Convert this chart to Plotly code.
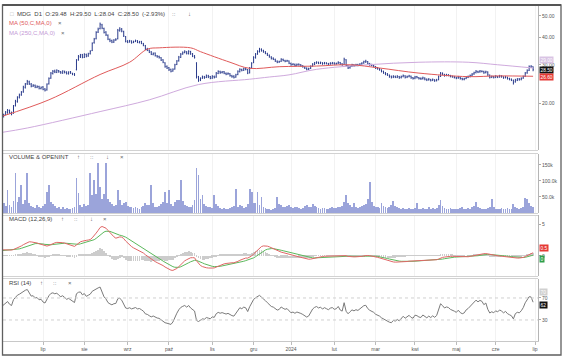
import math
import numpy as np
import plotly.graph_objects as go

# ---------------- data ----------------
month_ticks = [0, 21, 42, 64, 85, 107, 128, 147, 169, 190, 210, 231, 251, 271]
month_labels = ["", "lip", "sie", "wrz", "paź", "lis", "gru", "2024", "lut", "mar", "kwi", "maj", "cze", "lip"]

open_ = [17.3, 17.5, 17.9, 18.2, 18.6, 18.2, 18.1, 19.6, 20.4, 21.4,
         21.9, 22.6, 23.7, 24.6, 25.1, 24.5, 24.0, 24.2, 23.7, 23.9,
         23.4, 23.8, 23.3, 23.1, 24.6, 26.1, 27.4, 28.1, 27.7, 28.2,
         27.9, 27.5, 28.0, 27.8, 27.3, 27.9, 27.4, 27.3, 28.5, 31.6,
         32.6, 33.3, 32.4, 33.4, 32.9, 33.7, 34.8, 37.8, 39.4, 42.2,
         43.8, 45.5, 43.8, 42.2, 40.8, 39.0, 38.6, 38.0, 38.9, 39.4,
         42.8, 43.6, 42.4, 40.2, 38.4, 38.1, 38.4, 37.9, 38.3, 38.5,
         37.8, 38.2, 37.4, 36.6, 35.4, 34.9, 34.3, 33.4, 33.9, 32.9,
         32.7, 32.3, 31.6, 30.6, 29.5, 29.1, 28.6, 28.1, 28.7, 30.1,
         31.3, 32.4, 33.6, 34.1, 34.3, 33.7, 34.4, 33.7, 32.9, 30.5,
         26.4, 25.6, 26.1, 26.4, 26.3, 26.7, 26.5, 26.1, 26.5, 26.4,
         27.4, 27.9, 27.7, 27.9, 27.4, 27.3, 27.3, 26.7, 26.6, 26.4,
         27.1, 27.9, 28.5, 28.4, 28.7, 28.5, 27.6, 29.1, 30.7, 32.3,
         33.6, 34.4, 35.2, 34.7, 34.3, 33.7, 33.1, 32.5, 32.1, 31.7,
         31.1, 30.9, 31.1, 31.7, 31.3, 31.2, 31.2, 30.4, 30.1, 30.1,
         29.9, 30.2, 30.0, 29.6, 29.3, 28.9, 28.7, 28.9, 29.6, 30.1,
         30.5, 30.7, 30.4, 30.6, 30.4, 30.5, 30.3, 30.3, 30.4, 30.5,
         30.3, 30.5, 30.7, 30.3, 30.1, 31.6, 29.7, 29.1, 29.6, 29.9,
         29.8, 30.0, 29.9, 30.3, 30.6, 30.9, 31.0, 30.3, 30.1, 29.7,
         29.4, 29.1, 28.7, 28.4, 28.0, 27.5, 27.3, 26.9, 26.6, 26.4,
         26.5, 26.3, 26.5, 26.3, 26.6, 26.7, 26.4, 26.6, 26.6, 26.2,
         26.1, 26.5, 26.2, 26.0, 26.0, 26.1, 25.8, 25.7, 25.7, 25.6,
         25.6, 25.5, 25.7, 26.6, 27.4, 27.1, 26.9, 26.9, 26.8, 26.5,
         26.4, 26.2, 26.2, 26.3, 26.0, 25.8, 26.0, 26.3, 26.6, 26.9,
         27.3, 27.7, 27.9, 27.9, 28.0, 27.9, 27.7, 27.8, 26.9, 26.4,
         26.5, 26.4, 26.5, 26.5, 26.6, 26.4, 26.3, 26.3, 26.0, 25.8,
         25.5, 25.1, 25.5, 25.9, 25.8, 26.1, 26.6, 27.6, 28.3, 29.3,
         29.48]

high = [17.7, 18.0, 18.5, 18.9, 18.8, 18.4, 19.7, 20.8, 21.6, 22.2,
        22.8, 24.1, 24.8, 25.6, 25.4, 24.8, 24.5, 24.4, 24.2, 24.1,
        23.9, 24.0, 23.5, 24.7, 26.3, 27.8, 28.4, 28.5, 28.6, 28.4,
        28.1, 28.3, 28.2, 28.0, 28.0, 28.1, 27.6, 27.5, 31.8, 33.2,
        33.6, 33.6, 33.8, 33.7, 34.0, 34.9, 37.9, 39.7, 42.6, 44.2,
        46.6, 46.0, 44.2, 42.6, 41.2, 39.5, 39.0, 39.2, 39.6, 43.6,
        44.4, 44.0, 42.8, 40.5, 38.8, 38.9, 38.7, 38.6, 39.0, 38.8,
        38.5, 38.5, 37.7, 36.9, 35.8, 35.2, 34.6, 34.1, 34.1, 33.2,
        33.0, 32.5, 31.8, 30.8, 29.8, 29.3, 28.8, 28.9, 30.3, 31.5,
        32.9, 33.9, 34.5, 34.9, 34.6, 34.9, 34.7, 33.9, 33.2, 30.8,
        26.7, 26.3, 26.8, 26.7, 27.1, 27.0, 26.7, 26.9, 26.8, 27.8,
        28.3, 28.2, 28.1, 28.1, 27.7, 27.7, 27.5, 27.0, 26.9, 27.3,
        28.3, 28.9, 28.8, 29.1, 29.0, 28.7, 29.3, 30.8, 32.8, 33.9,
        34.9, 35.8, 35.6, 35.1, 34.6, 34.0, 33.4, 32.8, 32.4, 32.0,
        31.4, 31.3, 32.1, 32.0, 31.6, 31.6, 31.4, 30.7, 30.5, 30.4,
        30.4, 30.4, 30.2, 29.9, 29.5, 29.2, 29.1, 29.8, 30.5, 30.9,
        31.1, 31.0, 31.0, 30.8, 30.9, 30.8, 30.6, 30.8, 30.9, 30.8,
        30.7, 31.1, 30.9, 30.5, 32.3, 31.8, 29.9, 29.8, 30.3, 30.2,
        30.3, 30.3, 30.5, 30.8, 31.3, 31.6, 31.2, 30.6, 30.3, 30.0,
        29.6, 29.3, 29.0, 28.6, 28.2, 27.8, 27.5, 27.1, 26.8, 26.9,
        26.8, 26.9, 26.7, 26.8, 27.1, 26.9, 26.8, 27.0, 26.8, 26.4,
        26.7, 26.7, 26.4, 26.3, 26.5, 26.3, 26.0, 26.1, 25.9, 26.0,
        25.8, 25.9, 26.8, 27.8, 27.7, 27.3, 27.3, 27.2, 27.0, 26.8,
        26.7, 26.5, 26.7, 26.5, 26.2, 26.2, 26.6, 26.8, 27.1, 27.5,
        27.9, 28.4, 28.2, 28.4, 28.3, 28.2, 28.2, 28.0, 27.1, 26.8,
        26.7, 26.9, 26.7, 27.0, 26.9, 26.6, 26.7, 26.5, 26.2, 26.0,
        25.7, 25.9, 26.1, 26.1, 26.3, 26.8, 27.8, 28.6, 29.8, 29.9,
        29.50]

low = [17.1, 17.3, 17.7, 18.0, 18.0, 17.7, 18.0, 19.4, 20.2, 21.1,
       21.7, 22.4, 23.4, 24.3, 24.3, 23.7, 23.8, 23.5, 23.5, 23.2,
       23.2, 23.0, 22.7, 22.9, 24.4, 25.9, 27.1, 27.5, 27.5, 27.6,
       27.3, 27.3, 27.4, 27.1, 27.1, 27.3, 26.9, 26.7, 28.3, 31.3,
       32.2, 32.1, 32.2, 32.4, 32.6, 33.4, 34.6, 37.4, 39.1, 41.8,
       43.4, 43.5, 41.6, 40.5, 38.8, 38.0, 37.6, 37.7, 38.5, 39.1,
       42.4, 42.1, 40.1, 37.9, 37.6, 37.8, 37.4, 37.6, 38.0, 37.6,
       37.5, 37.2, 36.4, 35.0, 34.6, 33.9, 33.2, 33.1, 32.7, 32.3,
       32.0, 31.2, 30.5, 29.1, 28.7, 28.1, 27.7, 27.9, 28.5, 29.9,
       31.0, 32.2, 33.3, 33.8, 33.4, 33.4, 33.3, 32.5, 32.0, 26.0,
       25.1, 25.3, 25.9, 25.9, 26.1, 26.1, 25.8, 25.9, 26.0, 26.2,
       27.2, 27.3, 27.4, 27.2, 26.9, 27.0, 26.5, 26.2, 26.0, 26.2,
       26.9, 27.7, 28.0, 28.1, 28.3, 27.2, 27.4, 28.9, 30.5, 32.0,
       33.3, 34.1, 34.4, 34.0, 33.5, 32.9, 32.3, 31.7, 31.5, 30.9,
       30.5, 30.6, 30.9, 31.1, 30.8, 30.9, 30.2, 29.7, 29.8, 29.5,
       29.6, 29.7, 29.4, 29.1, 28.7, 28.3, 28.4, 28.7, 29.4, 29.9,
       30.3, 30.2, 30.2, 30.0, 30.1, 30.1, 29.9, 30.0, 30.1, 30.0,
       30.0, 30.2, 29.9, 29.7, 29.9, 29.5, 28.7, 28.8, 29.3, 29.4,
       29.5, 29.5, 29.6, 30.0, 30.3, 30.6, 30.1, 29.7, 29.5, 29.2,
       28.7, 28.5, 28.2, 27.7, 27.3, 26.9, 26.7, 26.2, 26.0, 26.1,
       26.1, 26.1, 25.9, 26.0, 26.3, 26.0, 26.1, 26.3, 25.9, 25.7,
       25.8, 26.0, 25.7, 25.6, 25.7, 25.5, 25.3, 25.4, 25.2, 25.3,
       25.1, 25.2, 25.5, 26.4, 26.9, 26.5, 26.6, 26.6, 26.3, 26.2,
       26.0, 25.8, 25.9, 25.7, 25.5, 25.5, 25.8, 26.1, 26.3, 26.6,
       27.0, 27.4, 27.5, 27.6, 27.7, 27.3, 27.4, 26.7, 26.0, 26.1,
       26.0, 26.1, 26.1, 26.2, 26.2, 25.9, 26.0, 25.7, 25.5, 25.3,
       24.4, 24.9, 25.3, 25.4, 25.5, 25.9, 26.4, 27.3, 28.1, 29.0,
       28.04]

close = [17.5, 17.8, 18.3, 18.6, 18.2, 18.0, 19.5, 20.5, 21.3, 21.8,
         22.5, 23.8, 24.5, 25.2, 24.6, 24.0, 24.2, 23.8, 23.9, 23.5,
         23.7, 23.2, 23.0, 24.5, 26.0, 27.5, 28.0, 27.8, 28.3, 27.9,
         27.6, 28.1, 27.7, 27.4, 27.8, 27.5, 27.2, 27.0, 31.5, 32.8,
         33.2, 32.5, 33.5, 32.8, 33.6, 34.5, 37.5, 39.2, 42.0, 43.5,
         45.8, 44.0, 42.0, 41.0, 39.2, 38.5, 38.0, 38.8, 39.0, 43.0,
         43.5, 42.6, 40.5, 38.3, 38.0, 38.5, 37.8, 38.2, 38.6, 37.9,
         38.1, 37.5, 36.8, 35.3, 35.0, 34.2, 33.5, 33.8, 33.0, 32.6,
         32.4, 31.5, 30.8, 29.4, 29.0, 28.5, 28.0, 28.6, 30.0, 31.2,
         32.5, 33.5, 34.0, 34.4, 33.8, 34.5, 33.6, 32.8, 32.4, 26.5,
         25.5, 26.0, 26.5, 26.2, 26.8, 26.4, 26.0, 26.6, 26.3, 27.5,
         28.0, 27.6, 27.8, 27.5, 27.2, 27.4, 26.8, 26.5, 26.3, 27.0,
         28.0, 28.6, 28.3, 28.8, 28.6, 27.5, 29.0, 30.5, 32.4, 33.5,
         34.5, 35.3, 34.8, 34.4, 33.8, 33.2, 32.6, 32.0, 31.8, 31.2,
         30.8, 31.0, 31.8, 31.4, 31.1, 31.3, 30.5, 30.0, 30.2, 29.8,
         30.1, 30.0, 29.7, 29.4, 29.0, 28.6, 28.8, 29.5, 30.2, 30.6,
         30.8, 30.5, 30.7, 30.3, 30.6, 30.4, 30.2, 30.5, 30.6, 30.3,
         30.4, 30.8, 30.2, 30.0, 31.8, 29.8, 29.0, 29.5, 30.0, 29.7,
         30.0, 29.8, 30.2, 30.5, 31.0, 31.1, 30.4, 30.0, 29.8, 29.5,
         29.0, 28.8, 28.5, 28.0, 27.6, 27.2, 27.0, 26.5, 26.3, 26.6,
         26.4, 26.6, 26.2, 26.5, 26.8, 26.3, 26.5, 26.7, 26.2, 26.0,
         26.4, 26.3, 26.0, 25.9, 26.2, 25.8, 25.6, 25.8, 25.5, 25.7,
         25.4, 25.6, 26.5, 27.5, 27.2, 26.8, 27.0, 26.9, 26.6, 26.5,
         26.3, 26.1, 26.4, 26.0, 25.8, 25.9, 26.3, 26.5, 26.8, 27.2,
         27.6, 28.0, 27.8, 28.1, 28.0, 27.6, 27.9, 27.0, 26.3, 26.5,
         26.3, 26.6, 26.4, 26.7, 26.5, 26.2, 26.4, 26.0, 25.8, 25.6,
         24.9, 25.6, 25.8, 25.7, 26.0, 26.5, 27.5, 28.2, 29.4, 29.36,
         28.50]

volume_k = [18, 30, 22, 72, 25, 20, 38, 124, 35, 51,
            87, 28, 40, 124, 30, 22, 20, 16, 24, 18,
            15, 22, 28, 67, 87, 35, 28, 22, 16, 20,
            14, 18, 12, 16, 14, 12, 17, 20, 108, 62,
            25, 20, 28, 22, 26, 124, 55, 103, 60, 157,
            80, 45, 60, 155, 45, 35, 28, 22, 25, 72,
            40, 26, 30, 35, 22, 18, 20, 16, 20, 15,
            14, 18, 22, 30, 24, 26, 87, 32, 20, 18,
            22, 28, 35, 67, 30, 72, 28, 22, 35, 40,
            42, 103, 36, 26, 22, 20, 18, 25, 40, 140,
            119, 45, 56, 28, 22, 18, 20, 15, 56, 28,
            22, 17, 14, 16, 12, 14, 16, 20, 22, 74,
            20, 24, 22, 16, 18, 28, 74, 67, 32, 30,
            67, 24, 49, 20, 16, 14, 12, 10, 12, 16,
            51, 28, 24, 20, 18, 22, 25, 18, 16, 20,
            18, 15, 14, 16, 22, 25, 18, 20, 28, 22,
            18, 16, 14, 15, 17, 14, 13, 15, 18, 16,
            15, 20, 18, 22, 35, 56, 30, 24, 20, 32,
            18, 16, 20, 22, 24, 28, 45, 96, 35, 22,
            20, 18, 16, 32, 22, 18, 16, 20, 24, 37,
            22, 18, 15, 14, 16, 13, 12, 15, 14, 12,
            16, 30, 14, 12, 15, 13, 14, 18, 12, 15,
            14, 16, 25, 40, 22, 15, 13, 14, 16, 12,
            11, 14, 13, 15, 18, 14, 12, 16, 14, 18,
            22, 35, 18, 15, 13, 14, 12, 16, 20, 43,
            18, 14, 12, 13, 15, 12, 14, 16, 13, 14,
            28, 18, 15, 13, 16, 20, 47, 44, 30, 22,
            18]

# moving averages at selected bars
ma50_idx = [0, 24, 50, 65, 74, 80, 96, 101, 116, 126, 141, 160, 177, 192, 212, 237, 252, 270]
ma50_val = [17.5, 20.8, 27.1, 30.8, 35.3, 35.8, 35.8, 34.4, 30.8, 28.9, 29.4, 29.6, 30.0, 29.0, 27.5, 26.5, 26.7, 26.6]
ma250_idx = [0, 13, 50, 75, 100, 126, 136, 146, 160, 186, 212, 237, 252, 270]
ma250_val = [14.8, 15.5, 18.4, 20.8, 24.4, 25.8, 26.4, 27.0, 28.6, 30.0, 30.8, 30.8, 30.0, 29.0]

# indicator state carried in from bars before the window (estimated)
ema12_seed, ema26_seed, signal_seed = 17.0, 16.0, 0.8
rsi_gain_seed, rsi_loss_seed = 0.20, 0.18

# ---------------- indicators ----------------
n = len(close)
idx = list(range(n))
c = np.array(close, dtype=float)


def ema(values, span, seed):
    a = 2.0 / (span + 1)
    out, e = [], seed
    for v in values:
        e = e + a * (v - e)
        out.append(e)
    return np.array(out)


macd = ema(c, 12, ema12_seed) - ema(c, 26, ema26_seed)
signal = ema(macd, 9, signal_seed)
hist = macd - signal

prev = np.concatenate([[open_[0]], c[:-1]])
diff = c - prev
ag, al = rsi_gain_seed, rsi_loss_seed
rsi = []
for d in diff:
    ag = (ag * 13 + max(d, 0)) / 14
    al = (al * 13 + max(-d, 0)) / 14
    rsi.append(100 - 100 / (1 + ag / al))

vol = [v * 1000 for v in volume_k]

# ---------------- figure ----------------
W, H = 564, 358
ML, MR = 3, 26
PW = W - ML - MR


def px2x(px):
    return (px - ML) / PW


def py2y(py):
    return 1 - py / H


NAVY = "#2b3c8c"
RED = "#e05a5a"
LAV = "#cfaadd"
VOLC = "#9ba4da"
GRID = "#f2f2f2"
FONT = "Liberation Sans, Arial, sans-serif"

fig = go.Figure()
fig.add_trace(go.Ohlc(x=idx, open=open_, high=high, low=low, close=close,
                      increasing_line_color=NAVY, decreasing_line_color=NAVY,
                      line_width=1, tickwidth=0.3, xaxis="x", yaxis="y", hoverinfo="skip"))
fig.add_trace(go.Scatter(x=ma250_idx, y=ma250_val, mode="lines", line=dict(color=LAV, width=1, shape="spline"),
                         xaxis="x", yaxis="y", hoverinfo="skip"))
fig.add_trace(go.Scatter(x=ma50_idx, y=ma50_val, mode="lines", line=dict(color=RED, width=1, shape="spline"),
                         xaxis="x", yaxis="y", hoverinfo="skip"))
fig.add_trace(go.Bar(x=idx, y=vol, width=0.42, marker=dict(color=VOLC, line=dict(width=0)),
                     xaxis="x2", yaxis="y2", hoverinfo="skip"))
fig.add_trace(go.Bar(x=idx, y=hist, width=0.42, marker=dict(color="#cccccc", line=dict(width=0)),
                     xaxis="x3", yaxis="y3", hoverinfo="skip"))
fig.add_trace(go.Scatter(x=idx, y=signal, mode="lines", line=dict(color="#5cb85c", width=1),
                         xaxis="x3", yaxis="y3", hoverinfo="skip"))
fig.add_trace(go.Scatter(x=idx, y=macd, mode="lines", line=dict(color="#e06666", width=1),
                         xaxis="x3", yaxis="y3", hoverinfo="skip"))
fig.add_trace(go.Scatter(x=idx, y=rsi, mode="lines", line=dict(color="#7a7a7a", width=1),
                         xaxis="x4", yaxis="y4", hoverinfo="skip"))

xr = [0.67, 272.5]
xcommon = dict(range=xr, tickvals=month_ticks, showgrid=True, gridcolor=GRID, gridwidth=1,
               zeroline=False, showline=False, fixedrange=True)
tickfont = dict(size=5, color="#555", family=FONT)
ycommon = dict(side="right", ticks="outside", ticklen=2, tickcolor="#aaa", showline=True,
               linecolor="#b5b5b5", linewidth=1, showgrid=False, zeroline=False, tickfont=tickfont,
               fixedrange=True)

main_dom = [py2y(150), py2y(6)]
vol_dom = [py2y(213), py2y(154)]
macd_dom = [py2y(276), py2y(215)]
rsi_dom = [py2y(341), py2y(279)]

fig.update_layout(
    width=W, height=H, margin=dict(l=ML, r=MR, t=0, b=0),
    paper_bgcolor="white", plot_bgcolor="white", showlegend=False,
    font=dict(family=FONT, size=6, color="#444"), bargap=0,
    xaxis=dict(domain=[0, 1], anchor="y", showticklabels=False, rangeslider=dict(visible=False), **xcommon),
    xaxis2=dict(domain=[0, 1], anchor="y2", showticklabels=False, **xcommon),
    xaxis3=dict(domain=[0, 1], anchor="y3", showticklabels=False, **xcommon),
    xaxis4=dict(domain=[0, 1], anchor="y4", showticklabels=True, ticktext=month_labels, ticks="outside",
                ticklen=3, tickcolor="#bbb", tickfont=tickfont, **{**xcommon, "showline": True},
                linecolor="#c8c8c8"),
    yaxis=dict(domain=main_dom, anchor="x", type="log", range=[1.0906, 1.7436],
               tickvals=[20, 30, 40, 50], ticktext=["20.00", "30.00", "40.00", "50.00"], **ycommon),
    yaxis2=dict(domain=vol_dom, anchor="x2", range=[0, 184000],
                tickvals=[50000, 100000, 150000], ticktext=["50.0k", "100.0k", "150k"], **ycommon),
    yaxis3=dict(domain=macd_dom, anchor="x3", range=[-3.2, 6.5],
                tickvals=[0, 5], ticktext=["0", "5"], **ycommon),
    yaxis4=dict(domain=rsi_dom, anchor="x4", range=[-8.2, 104.5],
                tickvals=[30, 70], ticktext=["30", "70"], **ycommon),
)

shapes = []
# RSI guide lines
for lvl in (30, 70):
    shapes.append(dict(type="line", xref="x4", yref="y4", x0=xr[0], x1=xr[1], y0=lvl, y1=lvl,
                       line=dict(color="#d0d0d0", width=1, dash="dot")))
# panel separators (double light lines)
for py in (150.5, 153.5, 213.5, 215.5, 276.5, 278.5):
    shapes.append(dict(type="line", xref="paper", yref="paper", x0=px2x(3), x1=px2x(538),
                       y0=py2y(py), y1=py2y(py), line=dict(color="#d2d2d2", width=1)))
# outer frame
shapes.append(dict(type="rect", xref="paper", yref="paper", x0=px2x(2.5), x1=px2x(561),
                   y0=py2y(355), y1=py2y(5), line=dict(color="#5f5f5f", width=1.3)))
shapes.append(dict(type="line", xref="paper", yref="paper", x0=px2x(2.5), x1=px2x(561),
                   y0=py2y(5), y1=py2y(5), line=dict(color="#555", width=2)))
fig.update_layout(shapes=shapes)

ann = []


def text(px, py, s, color="#444", size=6, anchor="left"):
    ann.append(dict(x=px2x(px), y=py2y(py), xref="paper", yref="paper", text=s, showarrow=False,
                    xanchor=anchor, yanchor="middle", font=dict(color=color, size=size, family=FONT)))


text(8, 13.5, "□", color="#b0b0b0", size=6)
text(15, 13.5, "MDG  D1  O:29.48  H:29.50  L:28.04  C:28.50  (-2.93%)", color="#444")
text(174, 13.5, "::", color="#666", anchor="center")
text(189, 13.5, "↓", color="#666", anchor="center")
text(7, 22.7, "MA (50,C,MA,0)", color=RED)
text(60, 22.7, "×", color="#666", anchor="center")
text(7, 32.7, "MA (250,C,MA,0)", color="#c49ad6")
text(63, 32.7, "×", color="#666", anchor="center")

text(7, 157, "VOLUME & OPENINT", color="#444")
for px, s in ((78, "↑"), (92, "::"), (107, "↓"), (122, "×")):
    text(px, 157, s, color="#666", anchor="center")
text(7, 218.5, "MACD (12,26,9)", color="#444")
for px, s in ((62, "↑"), (76, "::"), (91, "↓"), (105, "×")):
    text(px, 218.5, s, color="#666", anchor="center")
text(7, 283, "RSI (14)", color="#444")
for px, s in ((41, "↑"), (55, "::"), (70, "×")):
    text(px, 283, s, color="#666", anchor="center")


def box(yval, yref, s, bg, fg="white", yshift=0):
    ann.append(dict(x=1.0, xref="paper", y=yval, yref=yref, yshift=yshift, text=s, showarrow=False,
                    xanchor="left", yanchor="middle", xshift=1, bgcolor=bg, borderpad=0.5,
                    font=dict(color=fg, size=4.8, family=FONT)))


box(math.log10(ma250_val[-1]), "y", f"{ma250_val[-1]:.2f}", "#d9c4e4", fg="#ffffff", yshift=8)
box(math.log10(close[-1]), "y", f"{close[-1]:.2f}", "#111111")
box(math.log10(ma50_val[-1]), "y", f"{ma50_val[-1]:.2f}", "#e53935", yshift=-1)
box(float(macd[-1]), "y3", f"{macd[-1]:.1f}", "#e53935", yshift=5)
box(float(signal[-1]), "y3", f"{signal[-1]:.0f}", "#2e9e4a", yshift=-4)
box(70, "y4", "70", "#d0d0d0", fg="#ffffff", yshift=6)
box(float(rsi[-1]), "y4", f"{rsi[-1]:.0f}", "#111111", yshift=-3)
fig.update_layout(annotations=ann)

fig.write_html("out.html", config={"displayModeBar": False},
               post_script="document.body.style.margin='0';document.body.style.padding='0';document.body.style.overflow='hidden';")
